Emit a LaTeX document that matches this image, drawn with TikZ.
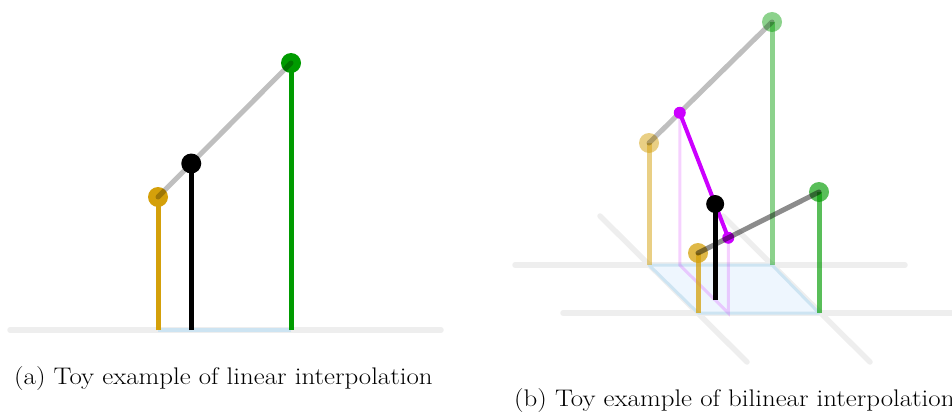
\documentclass[tikz,border=0pt]{standalone}
\usepackage{graphicx}
\usetikzlibrary{calc}
\definecolor{ochre}{RGB}{212,160,10}
\definecolor{leaf}{RGB}{0,155,0}
\definecolor{purp}{RGB}{204,0,255}
\definecolor{floorgray}{RGB}{238,238,238}
\definecolor{paleblue}{RGB}{205,228,242}
\definecolor{iceblue}{RGB}{238,246,254}
\newcommand{\captext}[1]{\scalebox{1.12}[1]{#1}}
\tikzset{
  floorline/.style={floorgray, line width=5.5pt, line cap=round},
  stem/.style={line width=5pt},
  link/.style={black, opacity=.25, line width=5pt, line cap=round},
  caption/.style={anchor=base west, inner sep=0pt, font=\fontsize{24}{28}\selectfont}
}
\begin{document}
\begin{tikzpicture}[x=1pt, y=-1pt]
\useasboundingbox (0,0) rectangle (952,412);
% (a) linear
\coordinate (ga) at (10,330);
\coordinate (gb) at (441,330);
\coordinate (A0) at (158,330);
\coordinate (A) at (158,197);
\coordinate (B0) at (291,330);
\coordinate (B) at (291,63);
\coordinate (P) at ($(A)!.25!(B)$);
\coordinate (P0) at (P |- A0);
\draw[floorline](ga)--(gb);
\draw[paleblue, line width=4pt](A0)--(B0);
\draw[stem, ochre](A0)--(A); \fill[ochre](A) circle(10pt);
\draw[stem, leaf](B0)--(B); \fill[leaf](B) circle(10pt);
\draw[link](A)--(B);
\draw[stem, black](P0)--(P); \fill(P) circle(10pt);
\node[caption] (capa) at (14,384) {\captext{(a) Toy example of linear interpolation}};
% (b) bilinear
\coordinate (h1a) at (515,265); \coordinate (h1b) at (905,265);
\coordinate (h2a) at (563,313); \coordinate (h2b) at (965,313);
\coordinate (d1a) at (600,216); \coordinate (d1b) at (747,362);
\coordinate (d2a) at (723,216); \coordinate (d2b) at (870,362);
\coordinate (Q00) at (649,265); \coordinate (Q10) at (772,265);
\coordinate (Q01) at (698,313); \coordinate (Q11) at (819,313);
\coordinate (R00) at (649,143); \coordinate (R10) at (772,22);
\coordinate (R01) at (698,253); \coordinate (R11) at (819,192);
\coordinate (M0) at ($(R00)!.25!(R10)$);
\coordinate (M1) at ($(R01)!.25!(R11)$);
\coordinate (G0) at ($(Q00)!.25!(Q10)$);
\coordinate (G1) at ($(Q01)!.25!(Q11)$);
\coordinate (S) at ($(M0)!.73!(M1)$);
\coordinate (S0) at ($(G0)!.73!(G1)$);
\draw[floorline](h1a)--(h1b);
\draw[floorline](h2a)--(h2b);
\draw[floorline](d1a)--(d1b);
\draw[floorline](d2a)--(d2b);
\draw[fill=iceblue, draw=paleblue, line width=3pt, line join=round](Q00)--(Q10)--(Q11)--(Q01)--cycle;
\draw[purp, opacity=.18, line width=3pt](M0)--(G0)--(G1)--(M1);
\begin{scope}[opacity=.5]
\draw[stem, ochre](Q00)--(R00); \fill[ochre](R00) circle(10pt);
\end{scope}
\begin{scope}[opacity=.45]
\draw[stem, leaf](Q10)--(R10); \fill[leaf](R10) circle(10pt);
\end{scope}
\draw[link](R00)--(R10);
\draw[purp, line width=4pt](M0)--(M1);
\fill[purp](M0) circle(6pt);
\fill[purp](M1) circle(6pt);
\begin{scope}[opacity=.75]
\draw[stem, ochre](Q01)--(R01); \fill[ochre](R01) circle(10pt);
\end{scope}
\begin{scope}[opacity=.65]
\draw[stem, leaf](Q11)--(R11); \fill[leaf](R11) circle(10pt);
\end{scope}
\draw[link, opacity=.45](R01)--(R11);
\draw[stem, black](S0)--(S); \fill(S) circle(9pt);
\node[caption] (capb) at (514,406) {\captext{(b) Toy example of bilinear interpolation}};
\end{tikzpicture}
\end{document}
